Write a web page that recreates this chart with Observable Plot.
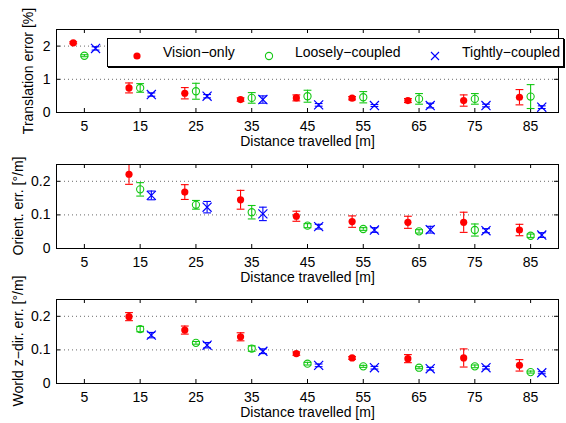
<!DOCTYPE html>
<html>
<head>
<meta charset="utf-8">
<script src="https://cdn.jsdelivr.net/npm/d3@7"></script>
<script src="https://cdn.jsdelivr.net/npm/@observablehq/plot@0.6"></script>
<style>
  html, body { margin: 0; padding: 0; background: #fff; }
  #root { position: relative; width: 566px; height: 423px; overflow: hidden; font-family: "Liberation Sans", Arial, sans-serif; }
  .panel { position: absolute; left: 0; }
  .ylab { position: absolute; font-size: 14px; white-space: nowrap; transform: translate(-50%, -50%) rotate(-90deg); color: #000; }
  #legend { position: absolute; left: 107px; top: 38px; width: 457px; height: 29px; box-sizing: border-box; border: 1px solid #000; box-shadow: 1px 1px 0 #000; background: #fff; font-size: 14px; }
  .li { position: absolute; top: 0; height: 27px; line-height: 27px; white-space: nowrap; }
  .lic { position: absolute; top: 9px; }
</style>
</head>
<body>
<div id="root"></div>
<script>
// ---- data ----
const distances = [5, 15, 25, 35, 45, 55, 65, 75, 85];
const seriesNames = ["Vision−only", "Loosely−coupled", "Tightly−coupled"];
const xTicks = [5, 15, 25, 35, 45, 55, 65, 75, 85];
const xLabel = "Distance travelled [m]";

// Translation error [%]
const visionTrans    = [2.10, 0.74, 0.58, 0.39, 0.44, 0.43, 0.36, 0.36, 0.46];
const visionTransErr = [0.03, 0.15, 0.17, 0.05, 0.09, 0.05, 0.06, 0.17, 0.23];
const looseTrans     = [1.71, 0.74, 0.64, 0.44, 0.49, 0.46, 0.41, 0.41, 0.48];
const looseTransErr  = [0.03, 0.13, 0.24, 0.16, 0.18, 0.17, 0.16, 0.16, 0.36];
const tightTrans     = [1.93, 0.54, 0.49, 0.39, 0.23, 0.21, 0.21, 0.21, 0.16];
const tightTransErr  = [0.05, 0.05, 0.05, 0.11, 0.04, 0.03, 0.07, 0.04, 0.04];
const transTicks = [0, 1, 2];

// Orientation error [deg/m]
const visionOri    = [null, 0.221, 0.168, 0.145, 0.096, 0.080, 0.078, 0.078, 0.055];
const visionOriErr = [null, 0.030, 0.022, 0.028, 0.015, 0.017, 0.018, 0.030, 0.017];
const looseOri     = [null, 0.176, 0.130, 0.108, 0.068, 0.058, 0.051, 0.055, 0.038];
const looseOriErr  = [null, 0.020, 0.013, 0.020, 0.006, 0.004, 0.005, 0.018, 0.005];
const tightOri     = [null, 0.158, 0.123, 0.103, 0.065, 0.055, 0.056, 0.053, 0.040];
const tightOriErr  = [null, 0.013, 0.017, 0.020, 0.007, 0.007, 0.010, 0.006, 0.007];
const oriTicks = [0, 0.1, 0.2];

// World z-direction error [deg/m]
const visionZ    = [null, 0.199, 0.159, 0.139, 0.089, 0.076, 0.074, 0.076, 0.054];
const visionZErr = [null, 0.012, 0.012, 0.012, 0.005, 0.004, 0.012, 0.027, 0.017];
const looseZ     = [null, 0.162, 0.121, 0.104, 0.059, 0.051, 0.047, 0.051, 0.034];
const looseZErr  = [null, 0.008, 0.004, 0.008, 0.004, 0.003, 0.003, 0.004, 0.003];
const tightZ     = [null, 0.144, 0.114, 0.096, 0.054, 0.047, 0.044, 0.047, 0.032];
const tightZErr  = [null, 0.008, 0.008, 0.007, 0.004, 0.004, 0.004, 0.004, 0.003];
const zTicks = [0, 0.1, 0.2];

// ---- styling ----
const colors = ["#ff0000", "#14c814", "#0000ff"];
const offsets = [-2, 0, 2];
const capHalf = 0.7;
const FONT = "'Liberation Sans', Arial, sans-serif";

function rows(vals, errs, s) {
  return distances.map((d, i) => ({x: d + offsets[s], y: vals[i], e: errs[i]}))
    .filter(r => r.y != null);
}

function panel({top, height, marginTop, marginBottom, yDomain, yTicks, series}) {
  const W = 566, mL = 56, mR = 8;
  const fw = W - mL - mR, fh = height - marginTop - marginBottom;
  const marks = [
    Plot.ruleY(yTicks.filter(t => t !== 0), {y: d => d, stroke: "#444", strokeDasharray: "1,3", strokeWidth: 0.8}),
    Plot.tickX(xTicks, {x: d => d, insetTop: fh - 4, stroke: "#000"}),
    Plot.tickX(xTicks, {x: d => d, insetBottom: fh - 4, stroke: "#000"}),
    Plot.tickY(yTicks, {y: d => d, insetRight: fw - 4, stroke: "#000"}),
    Plot.tickY(yTicks, {y: d => d, insetLeft: fw - 4, stroke: "#000"}),
    Plot.axisX(xTicks, {tickSize: 0, tickPadding: 9, label: null, fontSize: 14, tickFormat: d => String(d)}),
    Plot.axisY(yTicks, {tickSize: 0, tickPadding: 6, label: null, fontSize: 14, tickFormat: d => String(d)}),
    Plot.text([xLabel], {frameAnchor: "bottom", lineAnchor: "middle", dy: 29, text: d => d, fontSize: 14, fill: "#000"})
  ];
  series.forEach(([vals, errs], s) => {
    const r = rows(vals, errs, s);
    const c = colors[s];
    marks.push(
      Plot.ruleX(r, {x: "x", y1: d => d.y - d.e, y2: d => d.y + d.e, stroke: c, strokeWidth: 1.1, clip: true}),
      Plot.link(r, {x1: d => d.x - capHalf, x2: d => d.x + capHalf, y1: d => d.y + d.e, y2: d => d.y + d.e, stroke: c, strokeWidth: 1.1, clip: true}),
      Plot.link(r, {x1: d => d.x - capHalf, x2: d => d.x + capHalf, y1: d => d.y - d.e, y2: d => d.y - d.e, stroke: c, strokeWidth: 1.1, clip: true})
    );
    if (s === 0) marks.push(Plot.dot(r, {x: "x", y: "y", r: 3.6, fill: c, stroke: "none"}));
    if (s === 1) marks.push(Plot.dot(r, {x: "x", y: "y", r: 3.6, fill: "none", stroke: c, strokeWidth: 1.1}));
    if (s === 2) marks.push(Plot.dot(r, {x: "x", y: "y", r: 4.2, symbol: "times", stroke: c, strokeWidth: 1.2}));
  });
  marks.push(Plot.frame({stroke: "#000", strokeWidth: 1}));
  const p = Plot.plot({
    width: W, height, marginLeft: mL, marginRight: mR, marginTop, marginBottom,
    x: {domain: [0, 90]},
    y: {domain: yDomain},
    style: {fontFamily: FONT, fontSize: "14px", color: "#000", background: "transparent", overflow: "visible"},
    marks
  });
  p.classList.add("panel");
  p.style.top = top + "px";
  return p;
}

const root = document.getElementById("root");
root.appendChild(panel({top: 0, height: 150, marginTop: 29, marginBottom: 38, yDomain: [0, 2.5], yTicks: transTicks,
  series: [[visionTrans, visionTransErr], [looseTrans, looseTransErr], [tightTrans, tightTransErr]]}));
root.appendChild(panel({top: 150, height: 140, marginTop: 14, marginBottom: 42, yDomain: [0, 0.25], yTicks: oriTicks,
  series: [[visionOri, visionOriErr], [looseOri, looseOriErr], [tightOri, tightOriErr]]}));
root.appendChild(panel({top: 290, height: 133, marginTop: 9, marginBottom: 40, yDomain: [0, 0.25], yTicks: zTicks,
  series: [[visionZ, visionZErr], [looseZ, looseZErr], [tightZ, tightZErr]]}));

// y labels
[["Translation error [%]", 28, 70.5], ["Orient. err. [°/m]", 18, 206], ["World z−dir. err. [°/m]", 18, 341]].forEach(([t, x, y]) => {
  const d = document.createElement("div");
  d.className = "ylab"; d.textContent = t;
  d.style.left = x + "px"; d.style.top = y + "px";
  root.appendChild(d);
});

// legend
const legend = document.createElement("div");
legend.id = "legend";
const iconX = [29, 161, 327], textX = [55, 187, 354];
const icons = [
  `<svg width="10" height="10"><circle cx="5" cy="5" r="3.6" fill="${colors[0]}"/></svg>`,
  `<svg width="10" height="10"><circle cx="5" cy="5" r="3.6" fill="none" stroke="${colors[1]}" stroke-width="1.1"/></svg>`,
  `<svg width="10" height="10"><path d="M1,1L9,9M9,1L1,9" stroke="${colors[2]}" stroke-width="1.1"/></svg>`
];
seriesNames.forEach((n, i) => {
  const ic = document.createElement("div");
  ic.className = "lic"; ic.style.left = (iconX[i] - 5) + "px"; ic.innerHTML = icons[i];
  legend.appendChild(ic);
  const tx = document.createElement("div");
  tx.className = "li"; tx.style.left = textX[i] + "px"; tx.textContent = n;
  legend.appendChild(tx);
});
root.appendChild(legend);
</script>
</body>
</html>
